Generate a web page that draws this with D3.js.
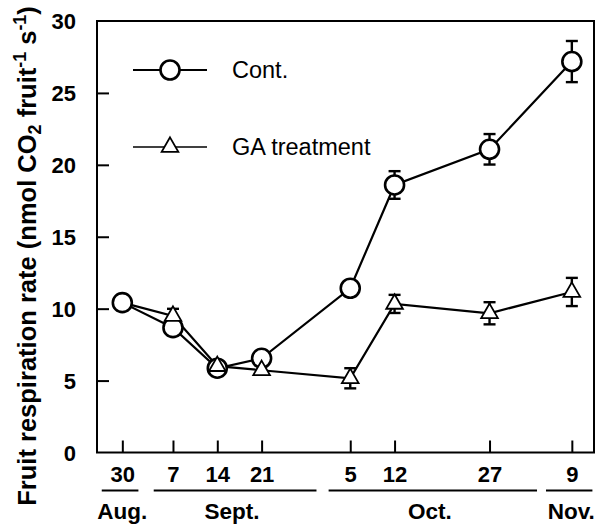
<!DOCTYPE html>
<html>
<head>
<meta charset="utf-8">
<script src="https://cdn.jsdelivr.net/npm/d3@7"></script>
<style>
  html, body { margin: 0; padding: 0; background: #fff; }
  svg { display: block; }
  text { font-family: "Liberation Sans", Arial, Helvetica, sans-serif; fill: #000; }
</style>
</head>
<body>
<svg id="chart" width="599" height="527"></svg>
<script>
// ---------------- data ----------------
const dates = ["08-30", "09-07", "09-14", "09-21", "10-05", "10-12", "10-27", "11-09"];
const contValues = [10.42, 8.68, 5.86, 6.55, 11.42, 18.6, 21.08, 27.18];
const contErrors = [0, 0, 0, 0, 0.3, 0.96, 1.06, 1.43];
const gaValues = [10.42, 9.49, 6.0, 5.72, 5.16, 10.33, 9.68, 11.16];
const gaErrors = [0, 0.5, 0, 0, 0.7, 0.63, 0.77, 0.98];
const seriesNames = ["Cont.", "GA treatment"];
const yTicks = [0, 5, 10, 15, 20, 25, 30];
const months = ["Aug.", "Sept.", "Oct.", "Nov."];
// month underline spans and label centres (dates, layout)
const monthSpans = [["08-26T18", "09-01T13"], ["09-03T23", "09-29T16"], ["10-01T14", "11-03T12"], ["11-04T22", "11-12T06"]];
const monthLabelAt = ["08-30", "09-16T08", "10-17T14", "11-08T22"];

const YEAR = 1995;
const parse = s => new Date(`${YEAR}-${s.length > 5 ? s + ":00:00" : s + "T00:00:00"}Z`);

// ---------------- layout ----------------
const svg = d3.select("#chart");
const pLeft = 97, pRight = 594, pTop = 21, pBottom = 452.5;

const x = d3.scaleUtc()
  .domain([parse("08-26"), parse("11-12T12")])
  .range([pLeft, pRight]);
const y = d3.scaleLinear().domain([0, 30]).range([pBottom, pTop]);

// frame
svg.append("rect")
  .attr("x", pLeft).attr("y", pTop)
  .attr("width", pRight - pLeft).attr("height", pBottom - pTop)
  .attr("fill", "none").attr("stroke", "#000").attr("stroke-width", 2);

// y axis (inward ticks)
const yAxis = d3.axisLeft(y).tickValues(yTicks).tickSize(-12).tickPadding(21).tickSizeOuter(0);
const yg = svg.append("g").attr("transform", `translate(${pLeft},0)`).call(yAxis);
yg.select(".domain").remove();
yg.selectAll(".tick line").attr("stroke", "#000").attr("stroke-width", 2)
  .filter(d => d === 0 || d === 30).remove();
yg.selectAll(".tick text").attr("font-size", 22).attr("font-weight", "bold")
  .attr("font-family", "Liberation Sans, Arial, sans-serif").attr("dy", "0.36em");

// x axis (inward ticks)
const xAxis = d3.axisBottom(x).tickValues(dates.map(parse))
  .tickFormat(d3.utcFormat("%-d")).tickSize(-12).tickPadding(14).tickSizeOuter(0);
const xg = svg.append("g").attr("transform", `translate(0,${pBottom})`).call(xAxis);
xg.select(".domain").remove();
xg.selectAll(".tick line").attr("stroke", "#000").attr("stroke-width", 2);
xg.selectAll(".tick text").attr("font-size", 22).attr("font-weight", "bold")
  .attr("font-family", "Liberation Sans, Arial, sans-serif").attr("dy", "0.71em");

// month underlines and labels
svg.append("g").selectAll("line").data(monthSpans).join("line")
  .attr("x1", d => x(parse(d[0]))).attr("x2", d => x(parse(d[1])))
  .attr("y1", 490.5).attr("y2", 490.5)
  .attr("stroke", "#000").attr("stroke-width", 2);
svg.append("g").selectAll("text").data(months).join("text")
  .attr("x", (d, i) => x(parse(monthLabelAt[i])))
  .attr("y", 519)
  .attr("text-anchor", "middle")
  .attr("font-size", 22.5).attr("font-weight", "bold")
  .text(d => d);

// y axis title
const title = svg.append("text")
  .attr("transform", `translate(36,256) rotate(-90)`)
  .attr("text-anchor", "middle")
  .attr("font-size", 20).attr("font-weight", "bold");
title.append("tspan").text("Fruit respiration rate (nmol CO");
title.append("tspan").attr("font-size", "0.7em").attr("dy", "0.3em").text("2");
title.append("tspan").attr("dy", "-0.21em").text(" fruit");
title.append("tspan").attr("font-size", "0.7em").attr("dy", "-0.55em").text("-1");
title.append("tspan").attr("dy", "0.385em").text(" s");
title.append("tspan").attr("font-size", "0.7em").attr("dy", "-0.55em").text("-1");
title.append("tspan").attr("dy", "0.385em").text(")");
// scale the title so it spans the same height as in the original figure
const tLen = title.node().getComputedTextLength();
if (tLen > 0) title.attr("font-size", 20 * 500 / tLen);

// ---------------- series ----------------
const contData = dates.map((d, i) => ({ date: parse(d), v: contValues[i], e: contErrors[i] }));
const gaData = dates.map((d, i) => ({ date: parse(d), v: gaValues[i], e: gaErrors[i] }));

const line = d3.line().x(d => x(d.date)).y(d => y(d.v));

function drawLine(data) {
  svg.append("path").datum(data).attr("d", line)
    .attr("fill", "none").attr("stroke", "#000").attr("stroke-width", 2.2);
}
function drawErrors(data) {
  const g = svg.append("g").attr("stroke", "#000").attr("stroke-width", 2.4);
  const ed = data.filter(d => d.e > 0);
  g.selectAll(".stem").data(ed).join("line")
    .attr("x1", d => x(d.date)).attr("x2", d => x(d.date))
    .attr("y1", d => y(d.v - d.e)).attr("y2", d => y(d.v + d.e));
  g.selectAll(".capT").data(ed).join("line")
    .attr("x1", d => x(d.date) - 6).attr("x2", d => x(d.date) + 6)
    .attr("y1", d => y(d.v + d.e)).attr("y2", d => y(d.v + d.e));
  g.selectAll(".capB").data(ed).join("line")
    .attr("x1", d => x(d.date) - 6).attr("x2", d => x(d.date) + 6)
    .attr("y1", d => y(d.v - d.e)).attr("y2", d => y(d.v - d.e));
}

drawLine(contData);
drawLine(gaData);
drawErrors(contData);
drawErrors(gaData);

// circles
svg.append("g").selectAll("circle").data(contData).join("circle")
  .attr("cx", d => x(d.date)).attr("cy", d => y(d.v)).attr("r", 9.5)
  .attr("fill", "#fff").attr("stroke", "#000").attr("stroke-width", 2.6);

// triangles (skip first point, which coincides with the control)
const tri = d3.symbol().type(d3.symbolTriangle).size(120);
svg.append("g").selectAll("path").data(gaData.slice(1)).join("path")
  .attr("transform", d => `translate(${x(d.date)},${y(d.v)})`)
  .attr("d", tri)
  .attr("fill", "#fff").attr("stroke", "#000").attr("stroke-width", 1.8);

// ---------------- legend ----------------
const lg = svg.append("g");
lg.append("line").attr("x1", 133).attr("x2", 207).attr("y1", 70).attr("y2", 70)
  .attr("stroke", "#000").attr("stroke-width", 2);
lg.append("circle").attr("cx", 170).attr("cy", 70).attr("r", 9.5)
  .attr("fill", "#fff").attr("stroke", "#000").attr("stroke-width", 2.6);
lg.append("text").attr("x", 232).attr("y", 78).attr("font-size", 23.5).text(seriesNames[0]);

lg.append("line").attr("x1", 133).attr("x2", 207).attr("y1", 147).attr("y2", 147)
  .attr("stroke", "#000").attr("stroke-width", 1.6);
lg.append("path").attr("transform", "translate(170,147)").attr("d", tri)
  .attr("fill", "#fff").attr("stroke", "#000").attr("stroke-width", 1.8);
lg.append("text").attr("x", 232).attr("y", 155).attr("font-size", 23.5).text(seriesNames[1]);
</script>
</body>
</html>
